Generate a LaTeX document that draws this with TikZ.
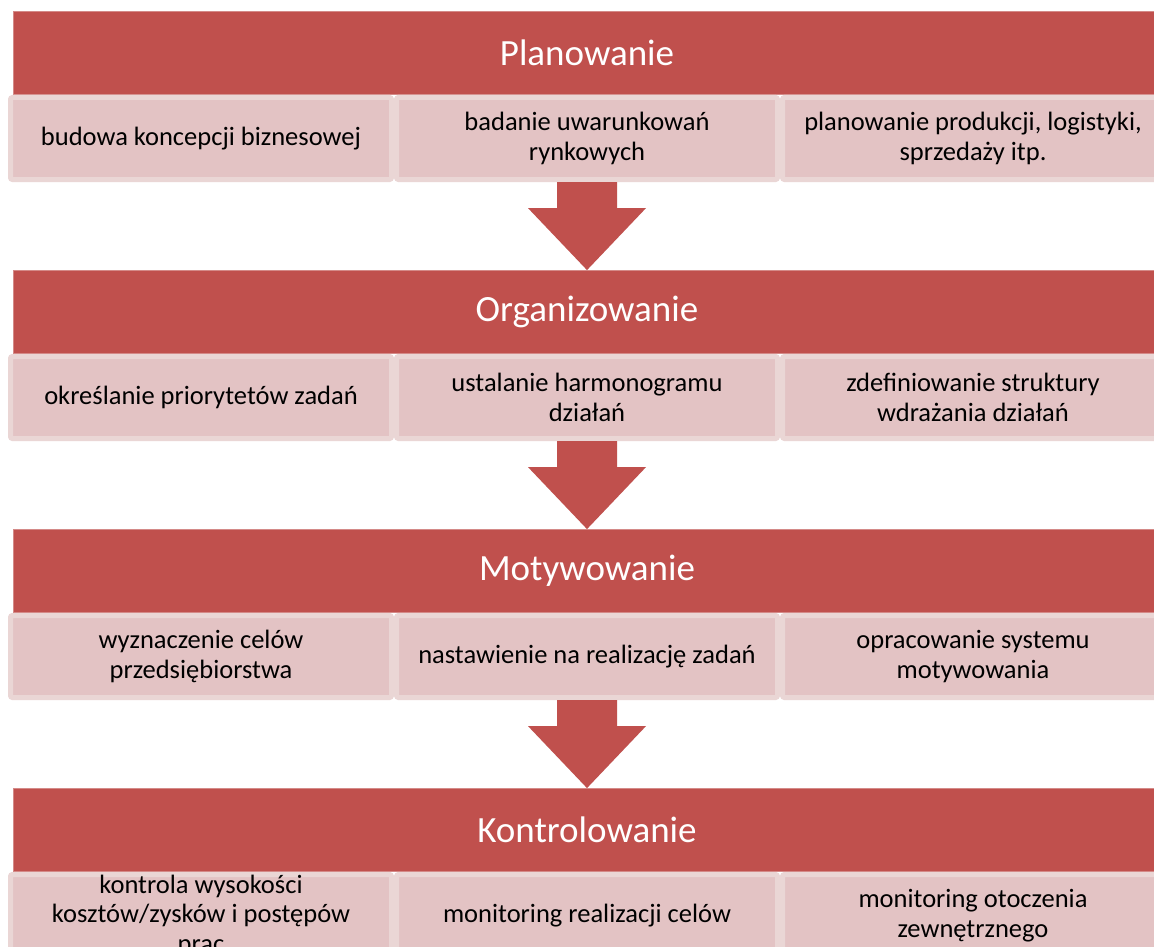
\documentclass[tikz,border=0pt]{standalone}
\usepackage{fontspec}
\setmainfont{Carlito}
\usetikzlibrary{calc}
\definecolor{hdr}{HTML}{C0504D}
\definecolor{hdredge}{HTML}{D48A88}
\definecolor{cellfill}{HTML}{E3C3C4}
\definecolor{cellline}{HTML}{EAD6D5}
\tikzset{
  header/.style={fill=hdr, draw=hdredge, line width=0.8pt, minimum width=1147pt,
    minimum height=83pt, inner sep=0pt, text=white,
    font=\fontsize{37}{41}\selectfont},
  cell/.style={fill=cellfill, draw=cellline, line width=5pt, rounded corners=2pt,
    minimum width=381pt, minimum height=82pt, inner sep=0pt, align=center,
    text=black, font=\fontsize{26.5}{29.5}\selectfont},
  bigarrow/.style={to path={let \p1=(\tikztostart), \p2=(\tikztotarget) in
    ({\x1-30pt},\y1) -- ({\x1+30pt},\y1) -- ({\x1+30pt},{\y2+62pt}) --
    ({\x1+59pt},{\y2+62pt}) -- (\x1,\y2) -- ({\x1-59pt},{\y2+62pt}) --
    ({\x1-30pt},{\y2+62pt}) -- cycle}},
}
\begin{document}
\begin{tikzpicture}[x=1pt,y=-1pt]
\useasboundingbox (0,0) rectangle (1154,947);
\clip (0,0) rectangle (1154,947);
\fill[white] (0,0) rectangle (1154,947);

% row 1
\node[header] (h1) at (587,53) {Planowanie};
\node[cell] (c1a) at (201,138.5) {budowa koncepcji biznesowej};
\node[cell] (c1b) at (587,138.5) {badanie uwarunkowań\\rynkowych};
\node[cell] (c1c) at (973,138.5) {planowanie produkcji, logistyki,\\sprzedaży itp.};

% row 2
\node[header] (h2) at (587,312) {Organizowanie};
\node[cell] (c2a) at (201,397.5) {określanie priorytetów zadań};
\node[cell] (c2b) at (587,397.5) {ustalanie harmonogramu\\działań};
\node[cell] (c2c) at (973,397.5) {zdefiniowanie struktury\\wdrażania działań};

% row 3
\node[header] (h3) at (587,571) {Motywowanie};
\node[cell] (c3a) at (201,656.5) {wyznaczenie celów\\przedsiębiorstwa};
\node[cell] (c3b) at (587,656.5) {nastawienie na realizację zadań};
\node[cell] (c3c) at (973,656.5) {opracowanie systemu\\motywowania};

% row 4
\node[header] (h4) at (587,830) {Kontrolowanie};
\node[cell] (c4a) at (201,915.5) {kontrola wysokości\\kosztów/zysków i postępów\\prac};
\node[cell] (c4b) at (587,915.5) {monitoring realizacji celów};
\node[cell] (c4c) at (973,915.5) {monitoring otoczenia\\zewnętrznego};

% arrows
\fill[hdr] (c1b.south) to[bigarrow] (h2.north);
\fill[hdr] (c2b.south) to[bigarrow] (h3.north);
\fill[hdr] (c3b.south) to[bigarrow] (h4.north);
\end{tikzpicture}
\end{document}
